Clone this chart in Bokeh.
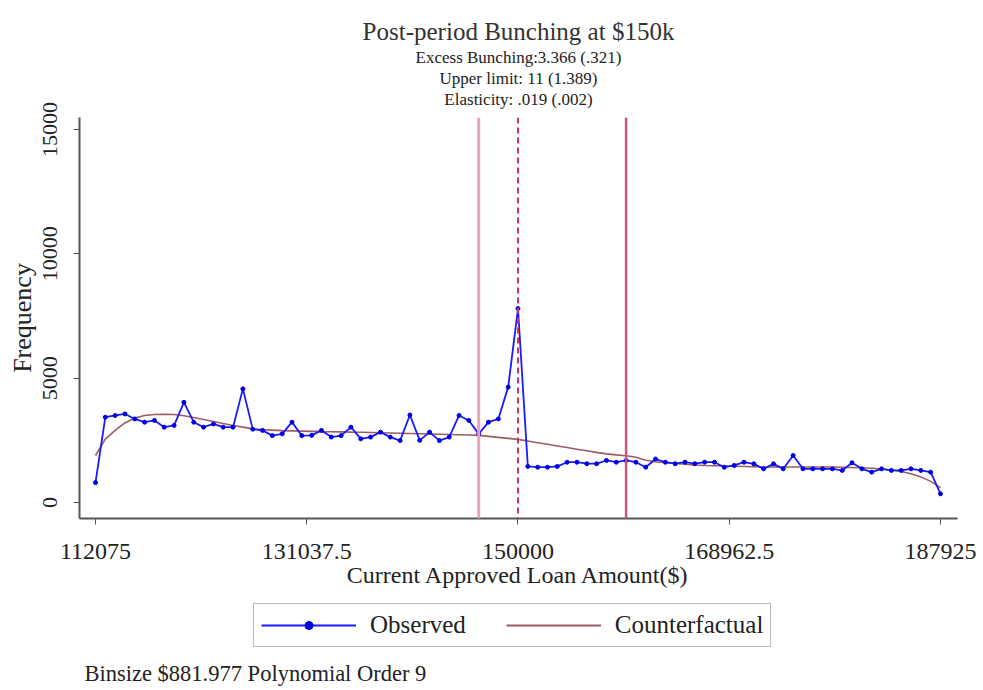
import math
import numpy as np
from bokeh.plotting import figure
from bokeh.layouts import column
from bokeh.models import (Span, Legend, LegendItem, Title, FixedTicker, Range1d, Label)
from bokeh.embed import file_html
from bokeh.resources import INLINE

# ---------------- data ----------------
bin_start = 112075.0
binsize = 881.977
cutoff = 150000.0
lower_bin = 39
upper_bin = 54

observed = [800, 3430, 3500, 3560, 3360, 3230, 3300, 3030, 3100, 4030,
            3230, 3030, 3160, 3030, 3030, 4570, 2950, 2900, 2690, 2760,
            3230, 2690, 2700, 2900, 2630, 2690, 3030, 2560, 2630, 2830,
            2630, 2490, 3520, 2500, 2830, 2490, 2630, 3500, 3300, 2760,
            3230, 3360, 4640, 7800, 1450, 1420, 1420, 1450, 1620, 1620,
            1560, 1560, 1690, 1620, 1690, 1620, 1420, 1750, 1620, 1560,
            1620, 1560, 1620, 1620, 1420, 1490, 1620, 1555, 1354, 1555,
            1354, 1890, 1354, 1354, 1354, 1354, 1290, 1600, 1354, 1220,
            1354, 1290, 1290, 1354, 1290, 1220, 350]

counterfactual = [1890, 2550, 2900, 3200, 3400, 3500, 3540, 3550, 3540, 3490,
                  3420, 3340, 3260, 3180, 3100, 3030, 2960, 2930, 2910, 2890,
                  2880, 2870, 2860, 2850, 2845, 2840, 2830, 2825, 2815, 2805,
                  2795, 2785, 2775, 2765, 2755, 2745, 2735, 2725, 2715, 2700,
                  2660, 2620, 2580, 2540, 2470, 2405, 2340, 2275, 2210, 2145,
                  2080, 2015, 1955, 1915, 1880, 1820, 1700, 1640, 1600, 1570,
                  1540, 1510, 1490, 1480, 1470, 1460, 1450, 1440, 1430, 1430,
                  1430, 1430, 1430, 1430, 1430, 1430, 1420, 1410, 1400, 1380,
                  1350, 1310, 1250, 1160, 1030, 850, 600]

x_ticks = [112075, 131037.5, 150000, 168962.5, 187925]
x_tick_labels = ["112075", "131037.5", "150000", "168962.5", "187925"]
y_ticks = [0, 5000, 10000, 15000]

title_text = "Post-period Bunching at $150k"
subtitles = ["Excess Bunching:3.366 (.321)", "Upper limit: 11 (1.389)",
             "Elasticity: .019 (.002)"]
note_text = "Binsize $881.977 Polynomial Order 9"
legend_labels = ["Observed", "Counterfactual"]

bins = bin_start + binsize * np.arange(len(observed))

FONT = "Liberation Serif"
TXT = "#222222"
OBS_C = "#1a1aff"
CF_C = "#9c5c64"

FL, FR = 79, 957          # frame left / right in canvas pixels
MAIN_H = 602
p = figure(width=983, height=MAIN_H, output_backend="svg", toolbar_location=None,
           x_range=Range1d(110639, 189451), y_range=Range1d(-643, 15482),
           min_border_left=FL, min_border_right=983 - FR, min_border_top=117,
           min_border_bottom=MAIN_H - 518, title=None)
p.background_fill_color = "white"
p.border_fill_color = "white"
p.outline_line_color = None
p.grid.visible = False

# vertical lines
p.add_layout(Span(location=bins[lower_bin], dimension="height",
                  line_color="#eba3b6", line_width=3))
p.add_layout(Span(location=cutoff, dimension="height",
                  line_color="#d2325a", line_width=2, line_dash="6 4"))
p.add_layout(Span(location=bins[upper_bin], dimension="height",
                  line_color="#c8587a", line_width=2.5))

p.line(bins, counterfactual, line_color=CF_C, line_width=1.6)
p.line(bins, observed, line_color=OBS_C, line_width=1.8)
p.scatter(bins, observed, size=4, fill_color="#0000e0",
          line_color="#0000e0", marker="circle")

# axes
for ax in (p.xaxis[0], p.yaxis[0]):
    ax.axis_line_color = "#555555"
    ax.axis_line_width = 2
    ax.major_tick_line_color = "#555555"
    ax.major_tick_out = 6
    ax.major_tick_in = 0
    ax.minor_tick_out = 0
    ax.minor_tick_in = 0
    ax.major_label_text_font = FONT
    ax.major_label_text_color = TXT
    ax.major_label_text_font_size = "24px"
    ax.axis_label_text_font = FONT
    ax.axis_label_text_font_style = "normal"
    ax.axis_label_text_color = TXT
    ax.axis_label_text_font_size = "24px"

p.xaxis.ticker = FixedTicker(ticks=x_ticks)
p.xaxis.major_label_overrides = {t: l for t, l in zip(x_ticks, x_tick_labels)}
p.xaxis.axis_label = "Current Approved Loan Amount($)"
p.xaxis.major_label_standoff = 19
p.xaxis.axis_label_standoff = 0

p.yaxis.ticker = FixedTicker(ticks=y_ticks)
p.yaxis.major_label_orientation = "parallel"
p.yaxis.major_label_text_font_size = "22px"
p.yaxis.axis_label = "Frequency"
p.yaxis.axis_label_text_font_size = "26px"
p.yaxis.major_label_standoff = 16
p.yaxis.axis_label_standoff = 4

# titles (added closest-first); a small spacer sits next to the frame
p.add_layout(Title(text=" ", text_font_size="7px", standoff=0), "above")
for s in reversed(subtitles):
    p.add_layout(Title(text=s, align="center", text_font=FONT,
                       text_font_size="17px", text_font_style="normal",
                       text_color=TXT, standoff=0), "above")
p.add_layout(Title(text=title_text, align="center", text_font=FONT,
                   text_font_size="25px", text_font_style="normal",
                   text_color="#333333", standoff=2), "above")

# ---------- legend + note panel ----------
LEG_H = 690 - MAIN_H
q = figure(width=983, height=LEG_H, output_backend="svg", toolbar_location=None,
           x_range=Range1d(FL, FR), y_range=Range1d(0, LEG_H),
           min_border_left=FL, min_border_right=983 - FR,
           min_border_top=0, min_border_bottom=0,
           x_axis_location=None, y_axis_location=None, title=None)
q.outline_line_color = None
q.grid.visible = False
q.background_fill_color = "white"
q.border_fill_color = "white"

hx, hy = [-500, -400], [-50, -50]   # off-screen sample glyphs for the legend
lo = q.line(hx, hy, line_color=OBS_C, line_width=1.8)
lm = q.scatter(hx, hy, size=5, fill_color="#0000e0", line_color="#0000e0",
               marker="circle")
lc = q.line(hx, hy, line_color=CF_C, line_width=2)

legend = Legend(items=[LegendItem(label=legend_labels[0], renderers=[lo, lm]),
                       LegendItem(label=legend_labels[1], renderers=[lc])],
                orientation="horizontal", location=(253 - FL, 43),
                border_line_color="#777777", border_line_width=1.5,
                background_fill_color="white", background_fill_alpha=1,
                label_text_font=FONT, label_text_font_size="25px",
                label_text_color=TXT, glyph_width=95, glyph_height=20,
                spacing=40, padding=7, label_standoff=14, margin=0)
q.add_layout(legend, "center")

q.add_layout(Label(x=84, y=17, text=note_text, text_font=FONT,
                   text_font_size="22.5px", text_color=TXT,
                   text_baseline="middle"))

open("out.html", "w").write(file_html(column(p, q, spacing=0), INLINE))
